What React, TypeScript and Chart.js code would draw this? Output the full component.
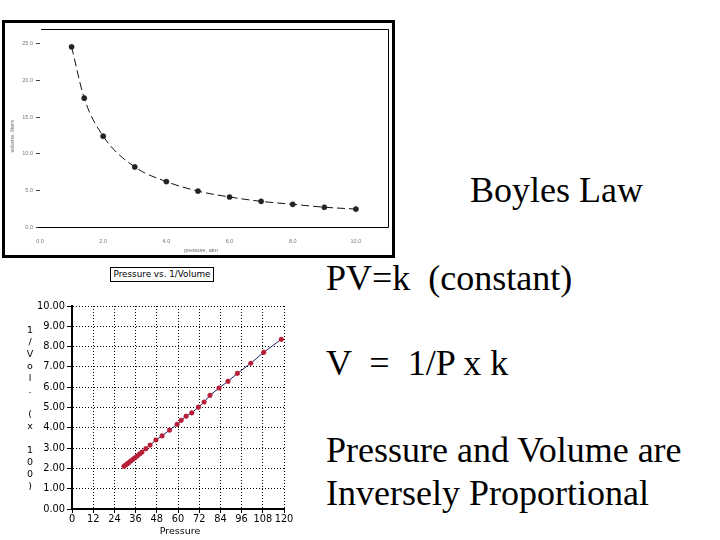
import React, { useEffect, useRef } from "react";
import { Chart, registerables } from "chart.js";

Chart.register(...registerables);

// ---- Top chart (Volume vs Pressure) ----
const pressureAtm = [1.0, 1.4, 2.0, 3.0, 4.0, 5.0, 6.0, 7.0, 8.0, 9.0, 10.0];
const volumeLiters = [24.6, 17.6, 12.4, 8.2, 6.2, 4.9, 4.1, 3.5, 3.1, 2.7, 2.45];
const topXTicks = [0, 2, 4, 6, 8, 10];
const topYTicks = [0, 5, 10, 15, 20, 25];
const topXTitle = "pressure, atm";
const topYTitle = "volume, liters";

// ---- Bottom chart (Pressure vs 1/Volume) ----
const pressure = [29.4, 30.3, 31.2, 32.1, 33.2, 34.4, 35.6, 37.0, 38.3, 39.6, 41.8, 44.2, 47.5, 51.0, 55.2, 59.5, 61.8, 64.6, 67.8, 71.6, 74.8, 78.1, 83.2, 88.3, 93.6, 101.2, 108.5, 118.5];
const invVolume = [2.10, 2.16, 2.22, 2.28, 2.36, 2.44, 2.52, 2.62, 2.71, 2.80, 2.97, 3.15, 3.40, 3.60, 3.89, 4.17, 4.37, 4.57, 4.74, 5.02, 5.27, 5.60, 5.96, 6.29, 6.68, 7.18, 7.72, 8.36];
const bottomXTicks = [0, 12, 24, 36, 48, 60, 72, 84, 96, 108, 120];
const bottomYTicks = [0, 1, 2, 3, 4, 5, 6, 7, 8, 9, 10];
const bottomTitle = "Pressure vs. 1/Volume";
const bottomXTitle = "Pressure";
const bottomYTitle = "1/Vol. (x 100)";

const slideTexts = [
  { text: "Boyles Law", left: 470, top: 172 },
  { text: "PV=k  (constant)", left: 326, top: 260 },
  { text: "V  =  1/P x k", left: 326, top: 345 },
  { text: "Pressure and Volume are", left: 326, top: 432 },
  { text: "Inversely Proportional", left: 326, top: 475 },
];

const SANS = "'DejaVu Sans', Verdana, sans-serif";
const SMALL = "'Liberation Sans', Arial, sans-serif";

function TopChart() {
  const ref = useRef<HTMLCanvasElement | null>(null);
  useEffect(() => {
    if (!ref.current) return;
    const framePlugin = {
      id: "framePlugin",
      beforeDatasetsDraw(chart: any) {
        const { ctx, chartArea } = chart;
        const { left, right, top, bottom } = chartArea;
        ctx.save();
        ctx.strokeStyle = "#000";
        ctx.lineWidth = 1;
        ctx.beginPath();
        ctx.moveTo(left + 1, Math.round(top) + 0.5);
        ctx.lineTo(Math.round(right) + 0.5, Math.round(top) + 0.5);
        ctx.lineTo(Math.round(right) + 0.5, Math.round(bottom) + 0.5);
        ctx.lineTo(left - 2, Math.round(bottom) + 0.5);
        ctx.stroke();
        // axis titles
        ctx.fillStyle = "#666";
        ctx.font = `5.5px ${SMALL}`;
        ctx.textAlign = "center";
        ctx.textBaseline = "middle";
        ctx.fillText(topXTitle, left + 161, bottom + 23);
        ctx.translate(left - 28, top + 107);
        ctx.rotate(-Math.PI / 2);
        ctx.fillText(topYTitle, 0, 0);
        ctx.restore();
      },
    };
    const chart = new Chart(ref.current, {
      type: "scatter",
      data: {
        datasets: [
          {
            data: pressureAtm.map((x, i) => ({ x, y: volumeLiters[i] })),
            showLine: true,
            borderColor: "#111",
            borderWidth: 1,
            borderDash: [8, 4],
            cubicInterpolationMode: "monotone",
            pointRadius: 2.6,
            pointBackgroundColor: "#222",
            pointBorderColor: "#222",
            pointBorderWidth: 0.5,
          } as any,
        ],
      },
      options: {
        responsive: false,
        animation: false,
        devicePixelRatio: 1,
        layout: { padding: { top: 5, right: 4, left: 0, bottom: 0 } },
        plugins: { legend: { display: false }, tooltip: { enabled: false } },
        scales: {
          x: {
            type: "linear",
            min: 0,
            max: 11,
            afterBuildTicks: (s: any) => {
              s.ticks = topXTicks.map((v) => ({ value: v }));
            },
            afterFit: (s: any) => {
              s.height = 28;
            },
            grid: { display: false },
            border: { display: false },
            ticks: {
              font: { family: SMALL, size: 5.5 },
              color: "#777",
              padding: 3,
              maxRotation: 0,
              autoSkip: false,
              callback: (v: any) => Number(v).toFixed(1),
            },
          },
          y: {
            type: "linear",
            min: 0,
            max: 27,
            afterBuildTicks: (s: any) => {
              s.ticks = topYTicks.map((v) => ({ value: v }));
            },
            afterFit: (s: any) => {
              s.width = 35;
            },
            grid: {
              display: true,
              drawOnChartArea: false,
              drawTicks: true,
              tickLength: 4,
              tickColor: "#444",
              color: "#444",
            },
            border: { display: false },
            ticks: {
              font: { family: SMALL, size: 5.5 },
              color: "#777",
              padding: 3,
              autoSkip: false,
              callback: (v: any) => Number(v).toFixed(1),
            },
          },
        },
      } as any,
      plugins: [framePlugin],
    });
    return () => chart.destroy();
  }, []);
  return (
    <div
      style={{
        position: "absolute",
        left: 2,
        top: 20,
        width: 393,
        height: 238,
        border: "3px solid #000",
        boxSizing: "border-box",
        background: "#fff",
      }}
    >
      <canvas ref={ref} width={387} height={232} style={{ display: "block" }} />
    </div>
  );
}

function BottomChart() {
  const ref = useRef<HTMLCanvasElement | null>(null);
  useEffect(() => {
    if (!ref.current) return;
    const titlePlugin = {
      id: "stackTitle",
      afterDraw(chart: any) {
        const { ctx } = chart;
        ctx.save();
        ctx.fillStyle = "#000";
        ctx.font = `9.5px ${SANS}`;
        ctx.textAlign = "center";
        ctx.textBaseline = "middle";
        bottomYTitle.split("").forEach((c, i) => {
          ctx.fillText(c, 30, 36 + 12 * i);
        });
        ctx.fillText(bottomXTitle, 180, 237);
        ctx.restore();
      },
    };
    const chart = new Chart(ref.current, {
      type: "scatter",
      data: {
        datasets: [
          {
            data: pressure.map((x, i) => ({ x, y: invVolume[i] })),
            showLine: true,
            borderColor: "#1c1c5c",
            borderWidth: 1,
            pointStyle: "star",
            pointRadius: 2.6,
            pointBorderWidth: 1.5,
            pointBorderColor: "#b81e38",
            pointBackgroundColor: "#b81e38",
          } as any,
        ],
      },
      options: {
        responsive: false,
        animation: false,
        devicePixelRatio: 1,
        layout: { padding: { top: 11, right: 36, left: 0, bottom: 0 } },
        plugins: { legend: { display: false }, tooltip: { enabled: false } },
        scales: {
          x: {
            type: "linear",
            min: 0,
            max: 120,
            afterBuildTicks: (s: any) => {
              s.ticks = bottomXTicks.map((v) => ({ value: v }));
            },
            afterFit: (s: any) => {
              s.height = 31;
            },
            grid: {
              color: "#000",
              lineWidth: 1,
              drawTicks: true,
              tickLength: 4,
              tickColor: "#000",
            },
            border: { display: true, color: "#000", width: 2, dash: [1, 2] },
            ticks: {
              font: { family: SANS, size: 9.8 },
              color: "#000",
              padding: 1,
              maxRotation: 0,
              autoSkip: false,
            },
          },
          y: {
            type: "linear",
            min: 0,
            max: 10,
            afterBuildTicks: (s: any) => {
              s.ticks = bottomYTicks.map((v) => ({ value: v }));
            },
            afterFit: (s: any) => {
              s.width = 72;
            },
            grid: {
              color: "#000",
              lineWidth: 1,
              drawTicks: true,
              tickLength: 5,
              tickColor: "#000",
            },
            border: { display: true, color: "#000", width: 2, dash: [1, 2] },
            ticks: {
              font: { family: SANS, size: 9.8 },
              color: "#000",
              padding: 2,
              autoSkip: false,
              callback: (v: any) => Number(v).toFixed(2),
            },
          },
        },
      } as any,
      plugins: [titlePlugin],
    });
    return () => chart.destroy();
  }, []);
  return (
    <canvas
      ref={ref}
      width={320}
      height={245}
      style={{ position: "absolute", left: 0, top: 295, display: "block" }}
    />
  );
}

export default function App() {
  return (
    <div
      style={{
        position: "fixed",
        left: 0,
        top: 0,
        width: 720,
        height: 540,
        background: "#fff",
        overflow: "hidden",
      }}
    >
      <TopChart />
      <BottomChart />
      <div
        style={{
          position: "absolute",
          left: 110,
          top: 267,
          width: 104,
          height: 15,
          border: "1px solid #000",
          boxSizing: "border-box",
          font: `8.8px ${SANS}`,
          lineHeight: "13px",
          textAlign: "center",
          whiteSpace: "pre",
          color: "#000",
        }}
      >
        {bottomTitle}
      </div>
      {slideTexts.map((t) => (
        <div
          key={t.text}
          style={{
            position: "absolute",
            left: t.left,
            top: t.top,
            fontFamily: "'Liberation Serif', 'Times New Roman', serif",
            fontSize: 36,
            lineHeight: "36px",
            whiteSpace: "pre",
            color: "#000",
          }}
        >
          {t.text}
        </div>
      ))}
    </div>
  );
}
